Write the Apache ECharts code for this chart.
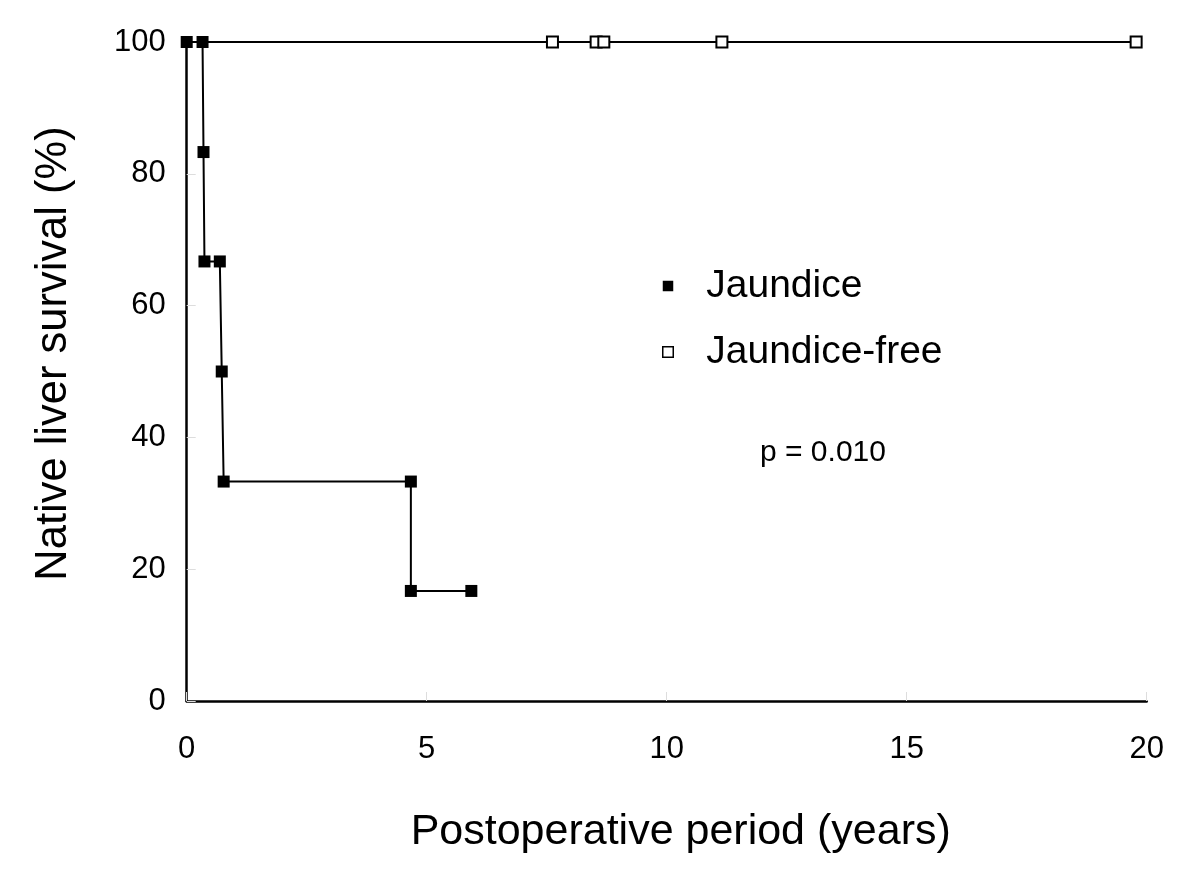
<!DOCTYPE html>
<html>
<head>
<meta charset="utf-8">
<script src="https://cdn.jsdelivr.net/npm/echarts@6/dist/echarts.min.js"></script>
<style>html,body{margin:0;padding:0;background:#fff;}#c{width:1200px;height:881px;}</style>
</head>
<body>
<div id="c"></div>
<script>
// Data
const seriesNames = ['Jaundice', 'Jaundice-free'];
const jaundiceX = [0, 0.33, 0.35, 0.37, 0.69, 0.73, 0.77, 4.67, 4.67, 5.93];
const jaundiceY = [100, 100, 83.3, 66.7, 66.7, 50, 33.3, 33.3, 16.7, 16.7];
const freeX = [0, 7.62, 8.53, 8.69, 11.15, 19.78];
const freeY = [100, 100, 100, 100, 100, 100];
const freeMarked = [false, true, true, true, true, true];
const xTicks = [0, 5, 10, 15, 20];
const yTicks = [0, 20, 40, 60, 80, 100];
const pText = 'p = 0.010';

const font = '"Liberation Sans", Arial, sans-serif';
const chart = echarts.init(document.getElementById('c'), null, {renderer: 'canvas'});

const jData = jaundiceX.map((x, i) => [x, jaundiceY[i]]);
const fData = freeX.map((x, i) => freeMarked[i] ? [x, freeY[i]] : {value: [x, freeY[i]], symbol: 'none'});

chart.setOption({
  animation: false,
  backgroundColor: '#fff',
  grid: {left: 186.7, right: 53.3, top: 42, bottom: 180, outerBoundsMode: 'none'},
  xAxis: {
    type: 'value', min: xTicks[0], max: xTicks[xTicks.length - 1], interval: 5,
    name: 'Postoperative period (years)', nameLocation: 'middle', nameGap: 110,
    nameTextStyle: {fontFamily: font, fontSize: 43, color: '#000', padding: [0, 0, 0, 28]},
    axisLine: {lineStyle: {color: '#000', width: 2.5}},
    axisTick: {inside: true, length: 9, lineStyle: {color: '#ddd', width: 1}},
    axisLabel: {fontFamily: font, fontSize: 31, color: '#000', margin: 33},
    splitLine: {show: false}
  },
  yAxis: {
    type: 'value', min: yTicks[0], max: yTicks[yTicks.length - 1], interval: 20,
    name: 'Native liver survival (%)', nameLocation: 'middle', nameGap: 111,
    nameTextStyle: {fontFamily: font, fontSize: 43.5, color: '#000', padding: [0, 0, 0, 36]},
    axisLine: {lineStyle: {color: '#000', width: 2.5}},
    axisTick: {inside: true, length: 9, lineStyle: {color: '#ddd', width: 1}},
    axisLabel: {fontFamily: font, fontSize: 31, color: '#000', margin: 21},
    splitLine: {show: false}
  },
  legend: {
    orient: 'vertical', left: 662, top: 265, padding: 0,
    itemWidth: 10.5, itemHeight: 10.5, itemGap: 24,
    textStyle: {fontFamily: font, fontSize: 39, color: '#000', lineHeight: 42, padding: [0, 0, 0, 28]},
    data: [
      {name: seriesNames[0], icon: 'rect', itemStyle: {color: '#000', borderWidth: 0}},
      {name: seriesNames[1], icon: 'rect', itemStyle: {color: '#fff', borderColor: '#000', borderWidth: 1.5}}
    ]
  },
  graphic: [{
    type: 'text', left: 760, top: 438,
    style: {text: pText, fontFamily: font, fontSize: 30, fill: '#000'}
  }],
  series: [
    {
      name: seriesNames[1], type: 'line', data: fData, z: 2,
      symbol: 'rect', symbolSize: 11, showAllSymbol: true,
      lineStyle: {color: '#000', width: 2},
      itemStyle: {color: '#fff', borderColor: '#000', borderWidth: 2}
    },
    {
      name: seriesNames[0], type: 'line', data: jData, z: 3,
      symbol: 'rect', symbolSize: 12, showAllSymbol: true,
      lineStyle: {color: '#000', width: 2},
      itemStyle: {color: '#000'}
    }
  ]
});
</script>
</body>
</html>
